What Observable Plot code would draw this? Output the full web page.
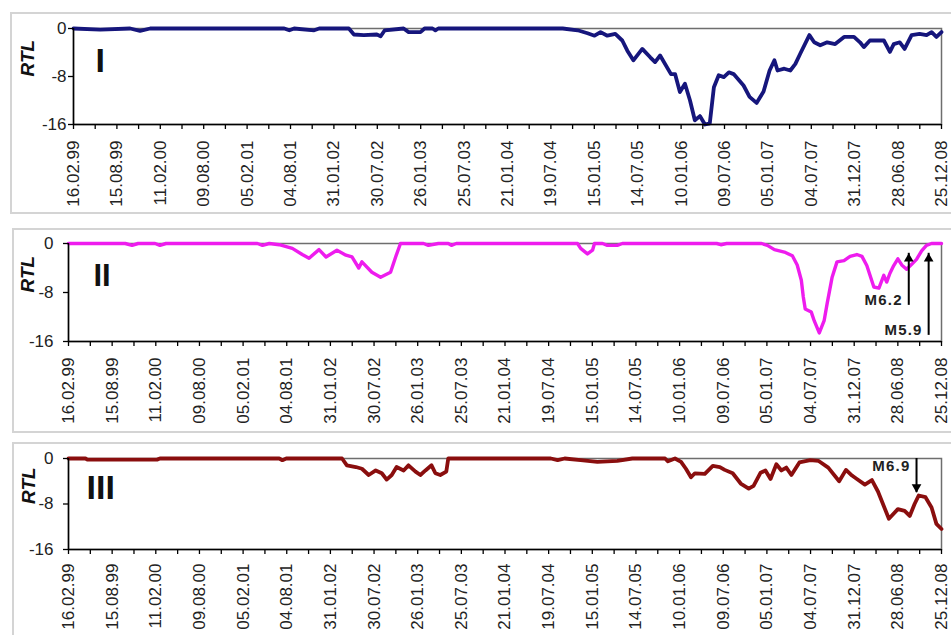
<!DOCTYPE html>
<html>
<head>
<meta charset="utf-8">
<script src="https://cdn.jsdelivr.net/npm/d3@7"></script>
<script src="https://cdn.jsdelivr.net/npm/@observablehq/plot@0.6"></script>
<style>
  html, body { margin: 0; padding: 0; background: #fff; }
  body { width: 951px; height: 635px; position: relative; overflow: hidden; }
  .box { position: absolute; border: 2px solid #d4d4d4; box-sizing: border-box; background: #fff; }
  .panel { position: absolute; left: 0; }
  .panel svg { overflow: hidden; }
</style>
</head>
<body>
<div class="box" style="left:10px;top:12px;width:980px;height:202px"></div>
<div class="box" style="left:12px;top:228px;width:980px;height:205px"></div>
<div class="box" style="left:12px;top:442px;width:980px;height:220px"></div>
<div id="p1" class="panel" style="top:12px"></div>
<div id="p2" class="panel" style="top:228px"></div>
<div id="p3" class="panel" style="top:442px"></div>
<script>
// Tick labels (every 180 days starting 16.02.99)
const tickLabels = ["16.02.99","15.08.99","11.02.00","09.08.00","05.02.01","04.08.01","31.01.02","30.07.02","26.01.03","25.07.03","21.01.04","19.07.04","15.01.05","14.07.05","10.01.06","09.07.06","05.01.07","04.07.07","31.12.07","28.06.08","25.12.08"];
const yTicks = [0, -8, -16];

// Series I (days since 16.02.99, RTL)
const dayI = [0,111,235,276,318,874,895,915,998,1019,1142,1163,1204,1258,1274,1291,1369,1390,1439,1456,1489,1501,1513,2029,2091,2132,2161,2186,2214,2247,2276,2297,2322,2359,2392,2412,2433,2478,2495,2515,2536,2557,2577,2598,2619,2639,2656,2676,2697,2718,2738,2779,2804,2833,2862,2887,2907,2920,2948,2973,2994,3014,3052,3072,3097,3126,3159,3196,3237,3262,3278,3303,3361,3386,3402,3427,3447,3476,3509,3538,3559,3579,3600];
const rtlI = [0,-0.2,0,-0.4,0,0,-0.3,0,-0.3,0,0,-1.0,-1.1,-1.0,-1.3,-0.3,0,-0.6,-0.6,0,0,-0.3,0,0,-0.3,-0.8,-1.2,-0.6,-1.2,-0.9,-2,-3.7,-5.3,-3.4,-4.8,-5.6,-4.5,-7.6,-7.6,-10.6,-9.2,-12,-15.3,-14.6,-16,-15.8,-9.8,-7.8,-8.1,-7.3,-7.6,-9.5,-11.4,-12.4,-10.5,-7.0,-5.3,-7,-6.7,-7,-5.9,-4.2,-1.1,-2.3,-2.8,-2.3,-2.6,-1.4,-1.4,-2.3,-3.1,-2,-2,-3.9,-2.6,-2.3,-3.4,-1.1,-0.9,-1.1,-0.6,-1.4,-0.6];

// Series II
const dayII = [0,234,262,287,357,377,402,779,800,828,869,923,964,992,1033,1062,1107,1144,1169,1197,1210,1251,1287,1328,1349,1369,1464,1484,1525,1566,1579,1599,2099,2112,2140,2161,2169,2202,2222,2263,2284,2673,2690,2714,2858,2882,2911,2952,2985,3005,3022,3030,3038,3063,3075,3096,3116,3128,3149,3169,3198,3223,3251,3272,3292,3321,3342,3362,3374,3387,3403,3420,3436,3456,3477,3497,3518,3538,3559,3600];
const rtlII = [0,0,-0.3,0,0,-0.3,0,0,-0.3,0,-0.2,-0.8,-1.8,-2.4,-1.0,-2.2,-1.1,-1.9,-2.2,-4,-3,-4.7,-5.5,-4.7,-2.2,0,0,-0.3,0,0,-0.3,0,0,-0.8,-1.7,-1.1,0,0,-0.3,-0.3,0,0,-0.2,0,0,-0.3,-1,-1.4,-2,-3.5,-6,-8.7,-10.7,-11.2,-12.6,-14.6,-12.6,-9.9,-5.5,-3,-2.8,-2.1,-1.8,-2.1,-3.6,-7.1,-7.3,-5.2,-6.3,-4.9,-3.6,-2.5,-3.5,-4.2,-3.4,-2.6,-1.2,-0.3,0,0];

// Series III
const dayIII = [0,70,78,365,377,869,882,898,1128,1148,1185,1210,1238,1267,1292,1312,1333,1353,1382,1402,1431,1451,1472,1497,1513,1533,1558,1566,1989,2017,2046,2112,2181,2263,2325,2460,2472,2501,2526,2546,2567,2583,2624,2657,2686,2706,2739,2772,2805,2825,2854,2874,2895,2919,2940,2960,2981,3014,3059,3092,3133,3178,3206,3231,3251,3284,3313,3338,3383,3420,3448,3469,3489,3506,3534,3559,3579,3600];
const rtlIII = [0,0,-0.2,-0.2,0,0,-0.3,0,0,-1.2,-1.5,-1.8,-2.9,-2.1,-2.6,-3.7,-2.9,-1.5,-2.1,-1.2,-2.3,-2.9,-2.1,-1.2,-2.6,-2.9,-2.3,0,0,-0.3,0,-0.3,-0.6,-0.4,0,0,-0.5,0,-0.6,-1.8,-3.3,-2.6,-2.7,-1.3,-1.5,-2.0,-2.6,-4.4,-5.3,-4.8,-2.5,-2.1,-3.6,-1.0,-2.1,-1.6,-2.9,-0.7,-0.3,-0.4,-1.6,-4.0,-2.0,-3.0,-3.6,-4.6,-3.8,-5.8,-10.6,-8.9,-9.2,-10.1,-8.0,-6.5,-6.8,-8.6,-11.5,-12.4];

// Earthquake annotations
const eventsII = [
  {label: "M6.2", day: 3465, base: -10.1, tip: -1.6},
  {label: "M5.9", day: 3547, base: -15.0, tip: -1.6}
];
const eventsIII = [
  {label: "M6.9", day: 3497, base: 0, tip: -6.0}
];

const toRows = (days, vals) => days.map((d, i) => ({day: d, rtl: vals[i]}));
const tickDays = d3.range(0, tickLabels.length * 180 - 179, 90);
const fmtX = d => (d % 180 === 0 ? tickLabels[d / 180] : "");

function panel(o) {
  const marks = [
    Plot.frame({stroke: "#6e6e6e", strokeWidth: 1.5}),
    Plot.line(toRows(o.days, o.vals), {x: "day", y: "rtl", stroke: o.color, strokeWidth: o.lw, strokeLinejoin: "round"}),
    Plot.ruleX([0], {stroke: "#000", strokeWidth: 1.5}),
    Plot.ruleY([-16], {stroke: "#000", strokeWidth: 1.5}),
    Plot.axisX({ticks: tickDays, tickFormat: fmtX, tickRotate: -90, tickSize: 5, tickPadding: o.xPad, fontSize: 17, stroke: "#000", strokeWidth: 1.3, fill: "#222", label: null}),
    Plot.axisY({ticks: yTicks, tickFormat: d => String(d), tickSize: 5, tickPadding: o.yPad, fontSize: 17, stroke: "#000", strokeWidth: 1.3, fill: "#222", label: null}),
    Plot.text(["RTL"], {frameAnchor: "left", rotate: -90, dx: o.rtlDx, fontWeight: "bold", fontStyle: "italic", fontSize: 19, fill: "#111"}),
    Plot.text([o.roman], {frameAnchor: "top-left", dx: o.romDx, dy: o.romDy, textAnchor: "start", lineAnchor: "middle", fontWeight: "bold", fontSize: o.romSize, fill: "#111"})
  ];
  if (o.events) {
    const up = o.up;
    marks.push(
      Plot.ruleX(o.events, {x: "day", y1: "base", y2: "tip", stroke: "#000", strokeWidth: 2}),
      Plot.dot(o.events, {x: "day", y: "tip", symbol: "triangle", r: 3.6, fill: "#000", stroke: null, rotate: up ? 0 : 180, dy: up ? 5.5 : -5.5}),
      Plot.text(o.events, {x: "day", y: "base", text: "label", textAnchor: "end", dx: -6, dy: up ? 0 : 2, lineAnchor: up ? "bottom" : "top", fontWeight: "bold", fontSize: 15, fill: "#222"})
    );
  }
  return Plot.plot({
    width: 951, height: o.height,
    marginLeft: o.ml, marginRight: 10, marginTop: o.mt, marginBottom: o.mb,
    x: {domain: [0, 3600], axis: null, label: null},
    y: {domain: [-16, 0], axis: null, label: null},
    style: {fontFamily: "'Liberation Sans', Arial, sans-serif", fontSize: "17px", background: "transparent", color: "#222"},
    marks
  });
}

const specs = [
  {id: "p1", days: dayI, vals: rtlI, color: "#16167c", lw: 3.8, height: 201, ml: 73, mt: 16, mb: 89, xPad: 11, yPad: 2, rtlDx: -46, roman: "I", romDx: 22, romDy: 33, romSize: 34},
  {id: "p2", days: dayII, vals: rtlII, color: "#ee1cee", lw: 3.4, height: 204, ml: 68, mt: 15, mb: 91, xPad: 11, yPad: 10, rtlDx: -41, roman: "II", romDx: 25, romDy: 33, romSize: 31, events: eventsII, up: true},
  {id: "p3", days: dayIII, vals: rtlIII, color: "#8a0e0e", lw: 3.8, height: 193, ml: 68, mt: 16, mb: 86, xPad: 9, yPad: 10, rtlDx: -40, roman: "III", romDx: 18, romDy: 30, romSize: 34, events: eventsIII, up: false}
];
for (const s of specs) {
  const svg = panel(s);
  d3.select(svg).selectAll("text").filter(function() { return /^M\d/.test(this.textContent); }).attr("letter-spacing", "1.2px");
  document.getElementById(s.id).appendChild(svg);
}
</script>
</body>
</html>
